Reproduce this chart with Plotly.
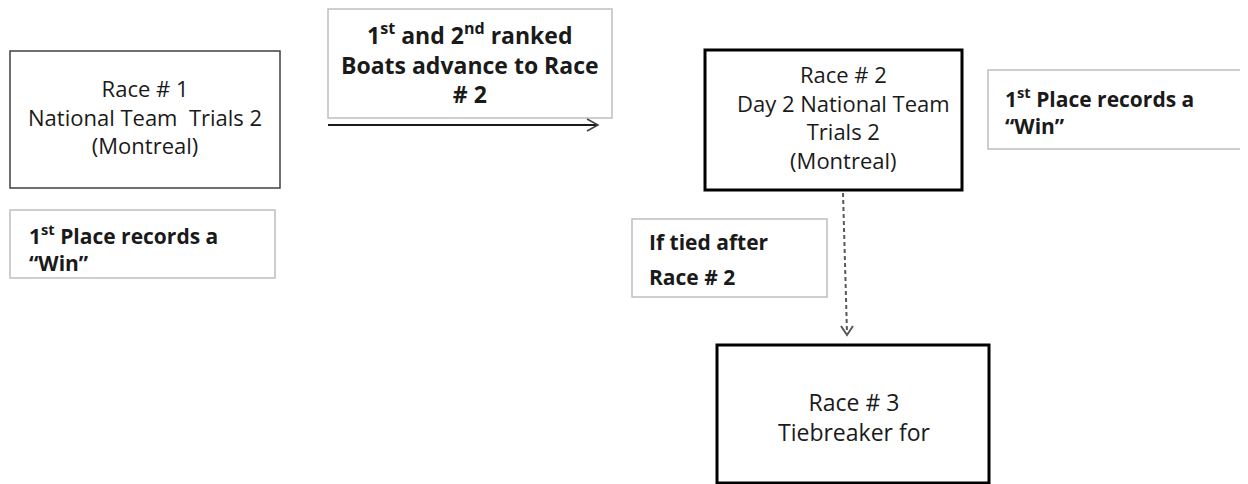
import plotly.graph_objects as go

# ---- diagram content (one list of text lines per box) ----
race1_lines = ["Race # 1", "National Team  Trials 2", "(Montreal)"]
race2_lines = ["Race # 2", "Day 2 National Team", "Trials 2", "(Montreal)"]
race3_lines = ["Race # 3", "Tiebreaker for"]
note_win_lines = ["1<sup>st</sup> Place records a", "\u201cWin\u201d"]
note_adv_lines = ["1<sup>st</sup> and 2<sup>nd</sup> ranked", "Boats advance to Race", "# 2"]
note_tie_lines = ["If tied after", "Race # 2"]

# ---- geometry (page pixels, y downward) ----
OFF = 8  # page body margin
FONT = "Open Sans"

boxes = [
    # x0, y0, x1, y1, line colour, line width
    (10, 51, 280, 188, "#404040", 1.5),    # race 1
    (705, 50, 962, 190, "#000000", 3),     # race 2
    (717, 345, 989, 483, "#000000", 3),    # race 3
    (10, 210, 275, 278, "#bfbfbf", 1.5),   # note under race 1
    (328, 9, 612, 118, "#bfbfbf", 1.5),    # advance note
    (988, 70, 1270, 149, "#bfbfbf", 1.5),  # note right of race 2
    (632, 219, 827, 297, "#bfbfbf", 1.5),  # tie note
]

# multi-line text blocks: lines, x, block centre y, anchor, size, bold
blocks = [
    (race1_lines, 145, 116, "center", 22, False),
    (race2_lines, 843, 117, "center", 22, False),
    (race3_lines, 854, 417, "center", 23, False),
    (note_win_lines, 27, 248, "left", 21, True),
    (note_adv_lines, 470, 63, "center", 23, True),
    (note_win_lines, 1003, 111, "left", 21, True),
]
# text placed line by line (wider spacing): lines, x, y per line, size
tie_block = (note_tie_lines, 647, [242, 277], 21)

fig = go.Figure()
shapes = []
annotations = []

for x0, y0, x1, y1, col, w in boxes:
    shapes.append(dict(type="rect", x0=x0, y0=y0, x1=x1, y1=y1, xref="x", yref="y",
                       line=dict(color=col, width=w), fillcolor="white", layer="below"))

# arrows
shapes.append(dict(type="line", x0=328, y0=125, x1=598, y1=125, xref="x", yref="y",
                   line=dict(color="#1a1a1a", width=2)))
shapes.append(dict(type="path", path="M 587 119 L 598 125 L 587 131", xref="x", yref="y",
                   line=dict(color="#404040", width=1.5)))
shapes.append(dict(type="line", x0=843, y0=193, x1=847, y1=333, xref="x", yref="y",
                   line=dict(color="#595959", width=2, dash="4px,3px")))
shapes.append(dict(type="path", path="M 841 326 L 847 335 L 853 326", xref="x", yref="y",
                   line=dict(color="#595959", width=2)))

for lines, x, y, anchor, size, bold in blocks:
    txt = "<br>".join(f"<b>{l}</b>" if bold else l for l in lines)
    annotations.append(dict(
        x=x, y=y, xref="x", yref="y", text=txt,
        showarrow=False, xanchor=anchor, yanchor="middle", align=anchor,
        font=dict(family=FONT, size=size, color="#1a1a1a")))

lines, x, ys, size = tie_block
for line, y in zip(lines, ys):
    annotations.append(dict(
        x=x, y=y, xref="x", yref="y", text=f"<b>{line}</b>",
        showarrow=False, xanchor="left", yanchor="middle", align="left",
        font=dict(family=FONT, size=size, color="#1a1a1a")))

fig.update_layout(
    width=1240, height=476,
    margin=dict(l=0, r=0, t=0, b=0),
    paper_bgcolor="white", plot_bgcolor="white",
    xaxis=dict(range=[OFF, 1248], visible=False, fixedrange=True),
    yaxis=dict(range=[484, OFF], visible=False, fixedrange=True),
    shapes=shapes, annotations=annotations, showlegend=False,
)
fig.write_html("out.html")
